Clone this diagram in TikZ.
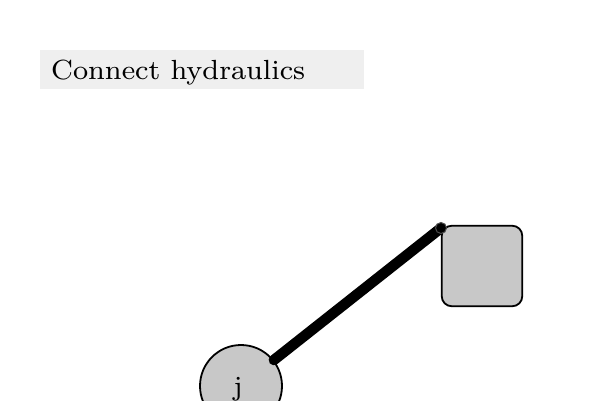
\documentclass[tikz,border=0pt]{standalone}
\definecolor{titlegray}{HTML}{EFEFEF}
\definecolor{nodegray}{HTML}{C8C8C8}
\tikzset{
  bigtext/.style={inner sep=0pt, xscale=3.56, yscale=3.46, font=\fontsize{8}{10}\selectfont},
  titletext/.style={bigtext, anchor=base west},
  jointnode/.style={circle, draw=black, line width=1.8pt, fill=nodegray, minimum size=82pt, inner sep=0pt},
  partnode/.style={rectangle, rounded corners=10pt, draw=black, line width=1.8pt, fill=nodegray, minimum size=80.5pt, inner sep=0pt},
  pipe/.style={line width=10.5pt, line cap=round, draw=black},
}
\begin{document}
\begin{tikzpicture}[x=1pt,y=-1pt]
\useasboundingbox (0,0) rectangle (600,400);
\fill[titlegray] (40,50) rectangle (364,89);
\node[titletext] (title) at (50.5,79.5) {Connect hydraulics};
\node[jointnode] (j) at (241,386) {};
\node[bigtext, anchor=base] (jl) at (238,395) {j};
\node[partnode] (sq) at (482,266) {};
\coordinate (end) at (441,228);
\draw[pipe] (j) -- (end);
\draw[line width=1pt, draw=black!70, fill=black] (end) circle (5.5pt);
\end{tikzpicture}
\end{document}
